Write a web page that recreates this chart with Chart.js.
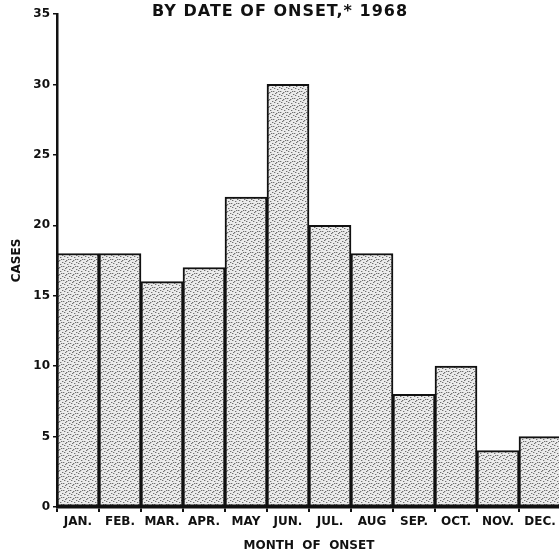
<!DOCTYPE html>
<html>
<head>
<meta charset="utf-8">
<script src="https://cdn.jsdelivr.net/npm/chart.js@4"></script>
<style>
  html, body { margin: 0; padding: 0; background: #fff; overflow: hidden; }
  #wrap { position: relative; width: 559px; height: 555px; overflow: hidden; }
  #box { position: absolute; left: 0; top: 0; width: 563px; height: 555px; }
  #title { position: absolute; top: 1px; left: 152px; white-space: nowrap;
           font: bold 16px "DejaVu Sans", sans-serif; color: #111; letter-spacing: 1px; }
</style>
</head>
<body>
<div id="wrap">
  <div id="box"><canvas id="c"></canvas></div>
  <div id="title">BY DATE OF ONSET,* 1968</div>
</div>
<script>
const categories = ["JAN.", "FEB.", "MAR.", "APR.", "MAY", "JUN.", "JUL.", "AUG", "SEP.", "OCT.", "NOV.", "DEC."];
const cases = [18, 18, 16, 17, 22, 30, 20, 18, 8, 10, 4, 5];
const yTicks = [0, 5, 10, 15, 20, 25, 30, 35];

function stipple() {
  const t = document.createElement('canvas');
  t.width = 7; t.height = 7;
  const g = t.getContext('2d');
  g.fillStyle = '#ebebeb'; g.fillRect(0, 0, 7, 7);
  const dots = [[0,0],[3,1],[6,3],[1,4],[4,5],[2,2],[5,0]];
  g.fillStyle = '#c0c0c0';
  dots.forEach(([x,y]) => { g.fillRect((x+1)%7, y, 1, 1); });
  g.fillStyle = '#707070';
  dots.forEach(([x,y]) => g.fillRect(x, y, 1, 1));
  return g.createPattern(t, 'repeat');
}

const font = { family: '"DejaVu Sans", sans-serif', weight: 'bold' };

new Chart(document.getElementById('c'), {
  type: 'bar',
  data: {
    labels: categories,
    datasets: [{
      data: cases,
      backgroundColor: stipple(),
      borderColor: '#111',
      borderWidth: 2,
      borderSkipped: false,
      barPercentage: 1,
      categoryPercentage: 1
    }]
  },
  options: {
    responsive: true,
    maintainAspectRatio: false,
    animation: false,
    layout: { padding: { top: 14, right: 2, bottom: 0, left: 0 } },
    plugins: { legend: { display: false }, tooltip: { enabled: false }, title: { display: false } },
    scales: {
      x: {
        grid: { display: true, drawOnChartArea: false, offset: true, tickLength: 5, color: '#111', lineWidth: 2 },
        border: { display: true, color: '#111', width: 2.5 },
        ticks: { color: '#111', font: { ...font, size: 12 }, padding: 3, maxRotation: 0, autoSkip: false },
        title: { display: true, text: 'MONTH  OF  ONSET', color: '#111', font: { ...font, size: 12 }, padding: { top: 0, bottom: 2 } },
        afterFit: s => { s.height = 48; }
      },
      y: {
        min: 0, max: 35,
        afterBuildTicks: s => { s.ticks = yTicks.map(v => ({ value: v })); },
        grid: { display: true, drawOnChartArea: false, tickLength: 4, color: '#111', lineWidth: 1.5 },
        border: { display: true, color: '#111', width: 2.5 },
        ticks: { color: '#111', font: { ...font, size: 12 }, padding: 3 },
        title: { display: true, text: 'CASES', color: '#111', font: { ...font, size: 12 }, padding: { top: 10, bottom: 0 } },
        afterFit: s => { s.width = 57; }
      }
    }
  }
});
</script>
</body>
</html>
